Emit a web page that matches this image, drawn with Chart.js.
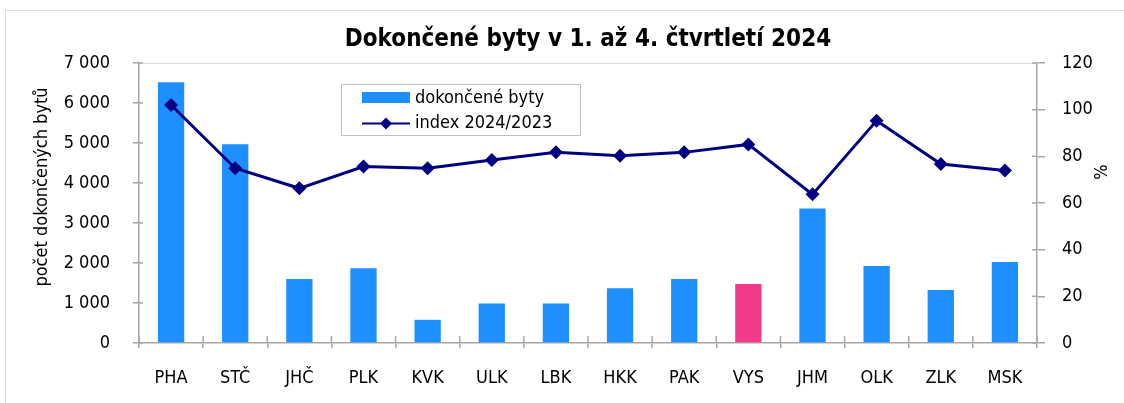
<!DOCTYPE html>
<html><head><meta charset="utf-8">
<script src="https://cdn.jsdelivr.net/npm/chart.js@4.4.1/dist/chart.umd.min.js"></script>
<style>html,body{margin:0;padding:0;background:#fff;} canvas{display:block}</style>
</head><body>
<canvas id="c" width="1124" height="403"></canvas>
<script>
const categories = ['PHA','STČ','JHČ','PLK','KVK','ULK','LBK','HKK','PAK','VYS','JHM','OLK','ZLK','MSK'];
const completedFlats = [6520, 4970, 1600, 1870, 580, 990, 990, 1370, 1600, 1475, 3360, 1925, 1325, 2025];
const indexValues = [102.0, 74.9, 66.3, 75.6, 74.9, 78.4, 81.7, 80.3, 81.7, 85.1, 63.7, 95.3, 76.7, 73.9];
const leftTickValues = [0, 1000, 2000, 3000, 4000, 5000, 6000, 7000];
const rightTickValues = [0, 20, 40, 60, 80, 100, 120];
const seriesLabels = ['dokončené byty', 'index 2024/2023'];
const chartTitle = 'Dokončené byty v 1. až 4. čtvrtletí 2024';
const leftAxisTitle = 'počet dokončených bytů';
const rightAxisTitle = '%';
const highlightedCategory = 'VYS';

const FONT = "'DejaVu Sans Condensed', 'DejaVu Sans', sans-serif";
const BLUE = '#1E8FFF';
const PINK = '#F33A89';
const NAVY = '#000080';
const AXIS = '#A6A6A6';

function fmt(v) { return String(v).replace(/\B(?=(\d{3})+(?!\d))/g, '\u00a0'); }

const decorPlugin = {
  id: 'decor',
  beforeDraw(chart) {
    const ctx = chart.ctx;
    ctx.save();
    ctx.strokeStyle = '#D9D9D9';
    ctx.lineWidth = 1;
    ctx.strokeRect(5.5, 10.5, 1130, 420);
    const a = chart.chartArea;
    ctx.beginPath();
    ctx.moveTo(a.left, a.top + 0.5);
    ctx.lineTo(a.right, a.top + 0.5);
    ctx.stroke();
    ctx.restore();
  },
  afterDatasetsDraw(chart) {
    const ctx = chart.ctx;
    const a = chart.chartArea;
    ctx.save();
    ctx.strokeStyle = AXIS;
    ctx.lineWidth = 1.5;
    const y = chart.scales.y, y1 = chart.scales.y1;
    ctx.beginPath();
    y.ticks.forEach((t, i) => { const p = y.getPixelForTick(i); ctx.moveTo(a.left, p); ctx.lineTo(a.left + 4, p); });
    y1.ticks.forEach((t, i) => { const p = y1.getPixelForTick(i); ctx.moveTo(a.right, p); ctx.lineTo(a.right - 5, p); });
    const n = categories.length;
    for (let i = 0; i <= n; i++) {
      const p = a.left + (a.right - a.left) * i / n;
      ctx.moveTo(p, a.bottom); ctx.lineTo(p, a.bottom - 7);
    }
    ctx.stroke();
    ctx.restore();
  },
  afterDraw(chart) {
    const ctx = chart.ctx;
    ctx.save();
    ctx.fillStyle = '#000';
    ctx.font = '18px ' + FONT;
    ctx.textAlign = 'center';
    ctx.textBaseline = 'middle';
    ctx.save(); ctx.translate(42, 187); ctx.rotate(-Math.PI / 2); ctx.fillText(leftAxisTitle, 0, 0); ctx.restore();
    ctx.save(); ctx.translate(1102, 172); ctx.rotate(-Math.PI / 2); ctx.fillText(rightAxisTitle, 0, 0); ctx.restore();
    // legend
    const bx = 341.5, by = 84.5, bw = 239, bh = 51;
    ctx.fillStyle = '#fff';
    ctx.fillRect(bx, by, bw, bh);
    ctx.strokeStyle = '#BFBFBF';
    ctx.lineWidth = 1;
    ctx.strokeRect(bx, by, bw, bh);
    const ds = chart.data.datasets;
    const barDs = ds.find(d => d.type === 'bar');
    const lineDs = ds.find(d => d.type === 'line');
    ctx.font = '18px ' + FONT;
    ctx.textAlign = 'left';
    ctx.fillStyle = BLUE;
    ctx.fillRect(362, 92, 48, 11);
    ctx.fillStyle = '#000';
    ctx.fillText(barDs.label, 415, 98);
    ctx.strokeStyle = lineDs.borderColor;
    ctx.lineWidth = 2;
    ctx.beginPath(); ctx.moveTo(362, 123.5); ctx.lineTo(410, 123.5); ctx.stroke();
    ctx.fillStyle = lineDs.borderColor;
    ctx.beginPath();
    ctx.moveTo(386, 117.5); ctx.lineTo(392, 123.5); ctx.lineTo(386, 129.5); ctx.lineTo(380, 123.5); ctx.closePath(); ctx.fill();
    ctx.fillStyle = '#000';
    ctx.fillText(lineDs.label, 415, 123);
    ctx.restore();
  }
};

new Chart(document.getElementById('c'), {
  data: {
    labels: categories,
    datasets: [
      {
        type: 'line', label: seriesLabels[1], data: indexValues, yAxisID: 'y1', order: 0,
        borderColor: NAVY, borderWidth: 3, backgroundColor: NAVY,
        pointStyle: 'rectRot', pointRadius: 7, pointBackgroundColor: NAVY, pointBorderColor: NAVY, pointBorderWidth: 0,
        tension: 0
      },
      {
        type: 'bar', label: seriesLabels[0], data: completedFlats, yAxisID: 'y', order: 1,
        backgroundColor: categories.map(c => c === highlightedCategory ? PINK : BLUE),
        borderWidth: 0, categoryPercentage: 1, barPercentage: 0.41
      }
    ]
  },
  options: {
    responsive: false, animation: false, devicePixelRatio: 1,
    layout: { padding: 0 },
    plugins: {
      legend: { display: false },
      tooltip: { enabled: false },
      title: { display: true, fullSize: false, text: chartTitle, color: '#000', font: { family: FONT, size: 24, weight: 'bold', lineHeight: 1.2 }, padding: { top: 25, bottom: 9.2 } }
    },
    scales: {
      x: {
        offset: true,
        grid: { display: true, offset: true, drawOnChartArea: false, drawTicks: true, tickLength: 5, color: AXIS, lineWidth: 1.5 },
        border: { display: true, color: AXIS, width: 1.5 },
        ticks: { color: '#000', font: { family: FONT, size: 18 }, padding: 20, maxRotation: 0, autoSkip: false },
        afterFit(s) { s.height = 60; }
      },
      y: {
        position: 'left', min: 0, max: 7000,
        afterBuildTicks(s) { s.ticks = leftTickValues.map(v => ({ value: v })); },
        grid: { display: true, drawOnChartArea: false, drawTicks: true, tickLength: 6, color: AXIS, lineWidth: 1.5 },
        border: { display: true, color: AXIS, width: 1.5 },
        ticks: { color: '#000', font: { family: FONT, size: 18 }, padding: 23, callback: v => fmt(v) },
        afterFit(s) { s.width = 139; }
      },
      y1: {
        position: 'right', min: 0, max: 120,
        afterBuildTicks(s) { s.ticks = rightTickValues.map(v => ({ value: v })); },
        grid: { display: true, drawOnChartArea: false, drawTicks: true, tickLength: 8, color: AXIS, lineWidth: 1.5 },
        border: { display: true, color: AXIS, width: 1.5 },
        ticks: { color: '#000', font: { family: FONT, size: 18 }, padding: 17, callback: v => fmt(v) },
        afterFit(s) { s.width = 87; }
      }
    }
  },
  plugins: [decorPlugin]
});
</script>
</body></html>
